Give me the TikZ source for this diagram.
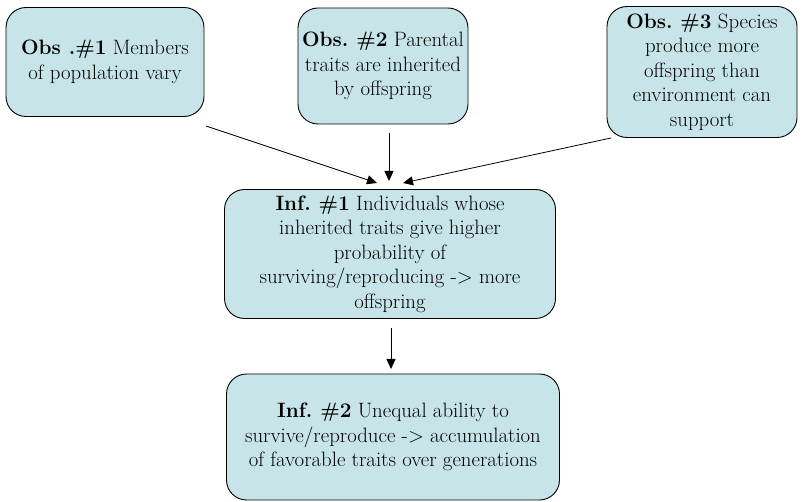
\documentclass[tikz,border=0pt]{standalone}
\usepackage{fontspec}
\setmainfont{Latin Modern Roman}
\usetikzlibrary{arrows.meta}
\definecolor{boxfill}{RGB}{199,228,233}
\begin{document}
\frenchspacing
\begin{tikzpicture}[x=1pt,y=-1pt,
  card/.style={draw=black, line width=0.9pt, fill=boxfill, rounded corners=20pt,
    align=center, inner sep=0pt, font=\rmfamily\fontsize{20.8}{24.5}\selectfont},
  arr/.style={draw=black, line width=0.8pt, -{Triangle[length=10pt,width=9pt]}}]
\useasboundingbox (0,0) rectangle (804,502);
\node[card, minimum width=198pt, minimum height=109pt] (o1) at (105,62)
  {\textbf{Obs .\#1} Members\\of population vary};
\node[card, minimum width=170pt, minimum height=116pt] (o2) at (383,66)
  {\textbf{Obs. \#2} Parental\\traits are inherited\\by offspring};
\node[card, minimum width=190pt, minimum height=131pt] (o3) at (702,72)
  {\textbf{Obs. \#3} Species\\produce more\\offspring than\\environment can\\support};
\node[card, minimum width=331pt, minimum height=129pt] (i1) at (390,254)
  {\textbf{Inf. \#1} Individuals whose\\inherited traits give higher\\probability of\\surviving/reproducing -> more\\offspring};
\node[card, minimum width=333pt, minimum height=126pt] (i2) at (393,437)
  {\textbf{Inf. \#2} Unequal ability to\\survive/reproduce -> accumulation\\of favorable traits over generations};
\coordinate (s1) at (206,126);
\coordinate (t1) at (377,183);
\coordinate (s2) at (389,133);
\coordinate (t2) at (389,181);
\coordinate (s3) at (611,138);
\coordinate (t3) at (403,183);
\coordinate (s4) at (391,328);
\coordinate (t4) at (391,369);
\draw[arr] (s1) -- (t1);
\draw[arr] (s2) -- (t2);
\draw[arr] (s3) -- (t3);
\draw[arr] (s4) -- (t4);
\end{tikzpicture}
\end{document}
